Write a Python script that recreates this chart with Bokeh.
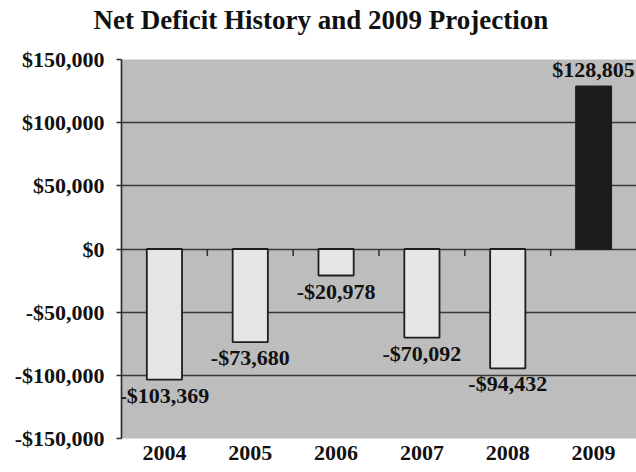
from bokeh.plotting import figure
from bokeh.models import Range1d, FixedTicker, CustomJSTickFormatter, ColumnDataSource, Title
from bokeh.transform import dodge
from bokeh.core.properties import value
from bokeh.embed import file_html
from bokeh.resources import INLINE

years = ["2004", "2005", "2006", "2007", "2008", "2009"]
net_deficit = [-103369, -73680, -20978, -70092, -94432, 128805]
y_ticks = [-150000, -100000, -50000, 0, 50000, 100000, 150000]
title_text = "Net Deficit History and 2009 Projection"

FONT = "Liberation Serif"

def money(v):
    return ("-$" if v < 0 else "$") + f"{abs(v):,}"

labels = [money(v) for v in net_deficit]
colors = ["#1c1c1c" if v > 0 else "#e6e6e6" for v in net_deficit]

p = figure(x_range=years, y_range=Range1d(y_ticks[0], y_ticks[-1]),
           width=636, height=472, output_backend="svg", toolbar_location=None,
           min_border_left=121, min_border_right=0, min_border_top=58, min_border_bottom=34)

# spacer between title and plot area (nearest to the frame)
spacer = Title(text=" ", text_font_size="1px", standoff=20)
p.add_layout(spacer, "above")
t = Title(text=title_text, align="left", offset=-28,
          text_font=FONT, text_font_size="27px", text_font_style="bold",
          text_color="#111111", standoff=4)
p.add_layout(t, "above")

p.background_fill_color = "#bdbdbd"
p.border_fill_color = "white"
p.outline_line_color = None

p.xgrid.grid_line_color = None
p.ygrid.ticker = FixedTicker(ticks=y_ticks[1:-1])
p.ygrid.grid_line_color = "#383838"
p.ygrid.grid_line_width = 1.7

p.yaxis.ticker = FixedTicker(ticks=y_ticks)
p.yaxis.formatter = CustomJSTickFormatter(code="""
    const s = Math.abs(tick).toLocaleString('en-US');
    return (tick < 0 ? '-$' : '$') + s;
""")
p.yaxis.axis_line_color = "#2e2e2e"
p.yaxis.axis_line_width = 1.7
p.yaxis.major_tick_line_color = "#2e2e2e"
p.yaxis.major_tick_line_width = 1.5
p.yaxis.major_tick_out = 5
p.yaxis.major_tick_in = 0
p.yaxis.minor_tick_line_color = None
p.yaxis.major_label_standoff = 12

p.xaxis.axis_line_color = None
p.xaxis.major_tick_line_color = None
p.xaxis.minor_tick_line_color = None
p.xaxis.major_tick_out = 0
p.xaxis.major_tick_in = 0
p.xaxis.major_label_standoff = 7

for ax in (p.xaxis[0], p.yaxis[0]):
    ax.major_label_text_font = FONT
    ax.major_label_text_font_size = "22px"
    ax.major_label_text_font_style = "bold"
    ax.major_label_text_color = "#111111"

src = ColumnDataSource(dict(year=years, val=net_deficit, label=labels, color=colors))

p.vbar(x="year", top="val", bottom=0, width=0.41, source=src,
       fill_color="color", line_color="#1e1e1e", line_width=1.8)

# category-boundary ticks on the zero line (pointing down)
bsrc = ColumnDataSource(dict(year=years[:-1], y0=[0] * 5, y1=[-5500] * 5))
p.segment(x0=dodge("year", 0.5, range=p.x_range), x1=dodge("year", 0.5, range=p.x_range),
          y0="y0", y1="y1", source=bsrc, line_color="#2e2e2e", line_width=1.5)

neg = ColumnDataSource(dict(year=[y for y, v in zip(years, net_deficit) if v < 0],
                            val=[v for v in net_deficit if v < 0],
                            label=[l for l, v in zip(labels, net_deficit) if v < 0]))
pos = ColumnDataSource(dict(year=[y for y, v in zip(years, net_deficit) if v >= 0],
                            val=[v for v in net_deficit if v >= 0],
                            label=[l for l, v in zip(labels, net_deficit) if v >= 0]))

common = dict(text="label", text_font=value(FONT), text_font_size="22px",
              text_font_style="bold", text_color="#111111", text_align="center")
p.text(x="year", y="val", source=neg, text_baseline="top", y_offset=3, **common)
p.text(x="year", y="val", source=pos, text_baseline="bottom", y_offset=-4, **common)

open("out.html", "w").write(file_html(p, INLINE))
